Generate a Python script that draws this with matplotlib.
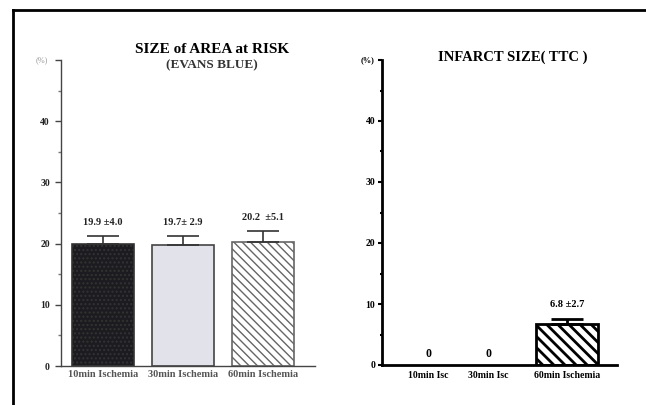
import matplotlib
matplotlib.use("Agg")
import matplotlib.pyplot as plt
from matplotlib.lines import Line2D

plt.rcParams['font.family'] = ['Liberation Serif', 'DejaVu Serif']
plt.rcParams['hatch.linewidth'] = 1.0

# ---- data ----
left_title = "SIZE of AREA at RISK"
left_subtitle = "(EVANS BLUE)"
left_categories = ["10min Ischemia", "30min Ischemia", "60min Ischemia"]
left_values = [19.9, 19.7, 20.2]
left_err_drawn = [1.4, 1.6, 1.9]
left_labels = ["19.9 \u00b14.0", "19.7\u00b1 2.9", "20.2  \u00b15.1"]

right_title = "INFARCT SIZE( TTC )"
right_categories = ["10min Isc", "30min Isc", "60min Ischemia"]
right_values = [0, 0, 6.8]
right_err_drawn = [0, 0, 0.8]
right_labels = ["0", "0", "6.8 \u00b12.7"]

yticks = [0, 10, 20, 30, 40]
ylim_top = 50

W, H = 646, 405
fig = plt.figure(figsize=(W / 100, H / 100), dpi=100)

def fx(px):
    return px / W

def fy(py):
    return 1 - py / H

# outer frame (top and left edges)
fig.add_artist(Line2D([fx(13), fx(13)], [fy(10), 0], color='black', lw=2.0, transform=fig.transFigure))
fig.add_artist(Line2D([fx(13), 1], [fy(10), fy(10)], color='black', lw=2.0, transform=fig.transFigure))

# ---------------- left panel ----------------
axL = fig.add_axes([fx(61), fy(366), fx(315) - fx(61), fy(60) - fy(366)])
xl = [0, 1, 2]
colors = ['#1c1c20', '#e2e2ea', 'white']
edges = ['#333333', '#444444', '#666666']
hatches = ['....', None, '\\\\\\\\']
for i in range(3):
    axL.bar(xl[i], left_values[i], width=0.775, color=colors[i], edgecolor=edges[i],
            linewidth=1.2, hatch=hatches[i], zorder=2)
    axL.errorbar(xl[i], left_values[i], yerr=[[0], [left_err_drawn[i]]], fmt='none',
                 ecolor='#333333', elinewidth=1.2, capsize=11.5, capthick=1.2, zorder=3)
    axL.text(xl[i], left_values[i] + left_err_drawn[i] + 1.4, left_labels[i], ha='center',
             va='bottom', fontsize=7.5, fontweight='bold', color='#222222')
axL.set_xlim(-0.525, 2.65)
axL.set_ylim(0, ylim_top)
for s in ['top', 'right']:
    axL.spines[s].set_visible(False)
for s in ['left', 'bottom']:
    axL.spines[s].set_color('#444444')
    axL.spines[s].set_linewidth(1.0)
axL.set_yticks(yticks + [ylim_top])
axL.set_yticklabels([str(t) for t in yticks] + [''], fontsize=7, fontweight='bold', color='#222222')
axL.set_yticks([5, 15, 25, 35, 45], minor=True)
axL.tick_params(axis='y', which='major', length=4, width=1, color='#444444', pad=4)
axL.tick_params(axis='y', which='minor', length=2, width=1, color='#777777')
axL.set_xticks(xl)
axL.set_xticklabels(left_categories, fontsize=7.5, fontweight='bold', color='#555555')
axL.tick_params(axis='x', length=0, pad=3)
axL.text(-0.05, 1.0, "(%)", transform=axL.transAxes, ha='right', va='center', fontsize=6, color='#999999')
fig.text(fx(212), fy(53), left_title, ha='center', va='baseline', fontsize=11, fontweight='bold')
fig.text(fx(212), fy(68.5), left_subtitle, ha='center', va='baseline', fontsize=9.5, fontweight='bold', color='#333333')

# ---------------- right panel ----------------
plt.rcParams['hatch.linewidth'] = 2.0
axR = fig.add_axes([fx(382), fy(365), fx(617) - fx(382), fy(60) - fy(365)])
xr = [0, 1, 2.32]
for i in range(3):
    if right_values[i] > 0:
        axR.bar(xr[i], right_values[i], width=1.03, color='white', edgecolor='black',
                linewidth=2.0, hatch='\\\\\\', zorder=2)
        axR.errorbar(xr[i], right_values[i], yerr=[[0], [right_err_drawn[i]]], fmt='none',
                     ecolor='black', elinewidth=2.0, capsize=11.5, capthick=2.0, zorder=3)
        axR.text(xr[i], right_values[i] + right_err_drawn[i] + 1.6, right_labels[i], ha='center',
                 va='bottom', fontsize=7.5, fontweight='bold')
    else:
        axR.text(xr[i], 1.8, right_labels[i], ha='center', va='center', fontsize=8.5, fontweight='bold')
axR.set_xlim(-0.77, 3.15)
axR.set_ylim(0, ylim_top)
for s in ['top', 'right']:
    axR.spines[s].set_visible(False)
for s in ['left', 'bottom']:
    axR.spines[s].set_linewidth(2.0)
axR.set_yticks(yticks + [ylim_top])
axR.set_yticklabels([str(t) for t in yticks] + [''], fontsize=7, fontweight='bold')
axR.set_yticks([5, 15, 25, 35, 45], minor=True)
axR.tick_params(axis='y', which='major', length=3, width=1.5, pad=2)
axR.tick_params(axis='y', which='minor', length=1.5, width=1.5)
axR.set_xticks(xr)
axR.set_xticklabels(right_categories, fontsize=7, fontweight='bold')
axR.tick_params(axis='x', length=0, pad=4)
axR.text(-0.03, 1.0, "(%)", transform=axR.transAxes, ha='right', va='center', fontsize=6, fontweight='bold')
fig.text(fx(513), fy(61), right_title, ha='center', va='baseline', fontsize=10.5, fontweight='bold')

fig.savefig("out.png", dpi=100)
